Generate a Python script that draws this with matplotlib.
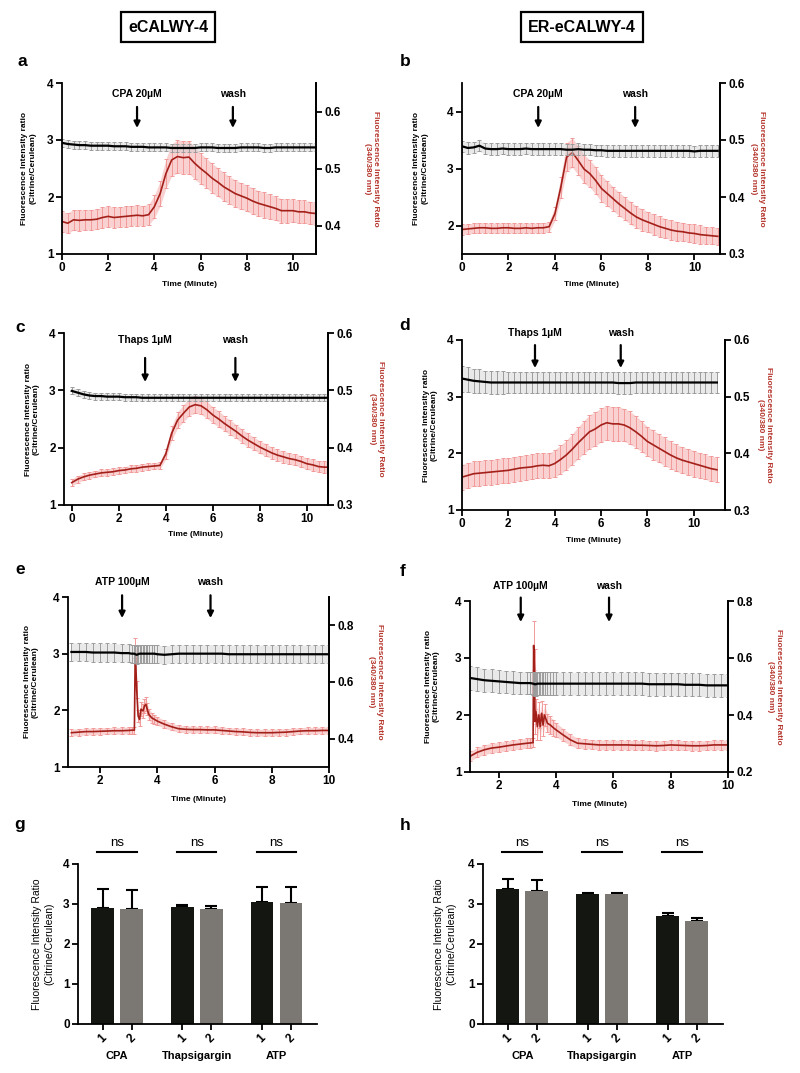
import matplotlib
matplotlib.use("Agg")
import matplotlib.pyplot as plt

plt.rcParams["font.family"] = ["Liberation Sans", "DejaVu Sans"]

# ---- time course data (minutes) ----
T_SLOW = [0.0, 0.25, 0.5, 0.75, 1.0, 1.25, 1.5, 1.75, 2.0, 2.25, 2.5, 2.75, 3.0, 3.25, 3.5,
          3.75, 4.0, 4.25, 4.5, 4.75, 5.0, 5.25, 5.5, 5.75, 6.0, 6.25, 6.5, 6.75, 7.0, 7.25,
          7.5, 7.75, 8.0, 8.25, 8.5, 8.75, 9.0, 9.25, 9.5, 9.75, 10.0, 10.25, 10.5, 10.75, 11.0]

A_RED = [0.407, 0.404, 0.410, 0.409, 0.410, 0.410, 0.411, 0.414, 0.416, 0.414,
         0.415, 0.416, 0.417, 0.418, 0.417, 0.419, 0.433, 0.456, 0.491, 0.515,
         0.521, 0.519, 0.520, 0.509, 0.500, 0.492, 0.483, 0.476, 0.468, 0.462,
         0.456, 0.452, 0.448, 0.443, 0.439, 0.436, 0.433, 0.430, 0.426, 0.426,
         0.426, 0.424, 0.424, 0.422, 0.421]
A_RED_ERR = [0.018, 0.018, 0.018, 0.018, 0.018, 0.018, 0.018, 0.018, 0.018, 0.018,
             0.018, 0.018, 0.018, 0.018, 0.018, 0.018, 0.020, 0.022, 0.026, 0.028,
             0.029, 0.029, 0.029, 0.028, 0.027, 0.026, 0.026, 0.025, 0.025, 0.024,
             0.024, 0.023, 0.023, 0.023, 0.022, 0.022, 0.022, 0.021, 0.021, 0.021,
             0.020, 0.020, 0.020, 0.020, 0.020]
A_BLK = [2.95, 2.93, 2.92, 2.91, 2.91, 2.90, 2.90, 2.90, 2.90, 2.89,
         2.89, 2.89, 2.88, 2.88, 2.88, 2.87, 2.87, 2.87, 2.87, 2.86,
         2.86, 2.86, 2.86, 2.86, 2.87, 2.87, 2.87, 2.86, 2.86, 2.86,
         2.86, 2.87, 2.87, 2.87, 2.87, 2.86, 2.86, 2.87, 2.87, 2.87,
         2.87, 2.87, 2.87, 2.87, 2.87]
A_BLK_ERR = [0.07, 0.07, 0.07, 0.07, 0.07, 0.07, 0.07, 0.07, 0.07, 0.07,
             0.07, 0.07, 0.07, 0.07, 0.07, 0.07, 0.07, 0.07, 0.07, 0.07,
             0.07, 0.07, 0.07, 0.07, 0.07, 0.07, 0.07, 0.07, 0.07, 0.07,
             0.07, 0.07, 0.07, 0.07, 0.07, 0.07, 0.07, 0.07, 0.07, 0.07,
             0.07, 0.07, 0.07, 0.07, 0.07]

B_RED = [0.343, 0.344, 0.345, 0.346, 0.346, 0.345, 0.345, 0.346, 0.346, 0.345,
         0.345, 0.346, 0.345, 0.346, 0.346, 0.348, 0.371, 0.417, 0.470, 0.478,
         0.464, 0.449, 0.441, 0.429, 0.415, 0.406, 0.397, 0.388, 0.380, 0.372,
         0.365, 0.360, 0.356, 0.352, 0.348, 0.345, 0.342, 0.340, 0.339, 0.337,
         0.336, 0.334, 0.333, 0.332, 0.331]
B_RED_ERR = [0.009, 0.009, 0.009, 0.009, 0.009, 0.009, 0.009, 0.009, 0.009, 0.009,
             0.009, 0.009, 0.009, 0.009, 0.009, 0.009, 0.012, 0.018, 0.025, 0.026,
             0.025, 0.025, 0.024, 0.024, 0.023, 0.022, 0.021, 0.021, 0.020, 0.020,
             0.019, 0.019, 0.018, 0.018, 0.018, 0.017, 0.017, 0.017, 0.016, 0.016,
             0.016, 0.016, 0.015, 0.015, 0.015]
B_BLK = [3.39, 3.36, 3.37, 3.40, 3.35, 3.34, 3.34, 3.35, 3.34, 3.34,
         3.34, 3.35, 3.34, 3.34, 3.34, 3.34, 3.34, 3.34, 3.33, 3.33,
         3.34, 3.33, 3.33, 3.32, 3.32, 3.31, 3.31, 3.31, 3.31, 3.31,
         3.31, 3.31, 3.31, 3.31, 3.31, 3.31, 3.31, 3.31, 3.31, 3.31,
         3.30, 3.31, 3.31, 3.31, 3.31]
B_BLK_ERR = [0.10, 0.10, 0.10, 0.10, 0.10, 0.10, 0.10, 0.10, 0.10, 0.10,
             0.10, 0.10, 0.10, 0.10, 0.10, 0.10, 0.10, 0.10, 0.10, 0.10,
             0.10, 0.10, 0.10, 0.10, 0.10, 0.10, 0.10, 0.10, 0.10, 0.10,
             0.10, 0.10, 0.10, 0.10, 0.10, 0.10, 0.10, 0.10, 0.10, 0.10,
             0.10, 0.10, 0.10, 0.10, 0.10]

C_RED = [0.339, 0.345, 0.349, 0.352, 0.354, 0.356, 0.357, 0.358, 0.360, 0.361,
         0.363, 0.364, 0.366, 0.367, 0.368, 0.369, 0.389, 0.425, 0.448, 0.460,
         0.471, 0.475, 0.473, 0.466, 0.457, 0.450, 0.442, 0.435, 0.428, 0.420,
         0.413, 0.407, 0.401, 0.396, 0.391, 0.387, 0.384, 0.381, 0.379, 0.376,
         0.372, 0.370, 0.367, 0.366, 0.366]
C_RED_ERR = [0.006, 0.006, 0.006, 0.006, 0.006, 0.006, 0.006, 0.006, 0.006, 0.006,
             0.006, 0.006, 0.006, 0.006, 0.006, 0.006, 0.009, 0.012, 0.014, 0.015,
             0.015, 0.015, 0.015, 0.015, 0.014, 0.014, 0.013, 0.013, 0.012, 0.012,
             0.012, 0.011, 0.011, 0.011, 0.010, 0.010, 0.010, 0.010, 0.010, 0.010,
             0.010, 0.010, 0.010, 0.010, 0.010]
C_BLK = [2.99, 2.96, 2.93, 2.91, 2.90, 2.90, 2.89, 2.89, 2.89, 2.88,
         2.88, 2.88, 2.87, 2.87, 2.87, 2.87, 2.87, 2.87, 2.87, 2.87,
         2.87, 2.87, 2.87, 2.87, 2.87, 2.87, 2.87, 2.87, 2.87, 2.87,
         2.87, 2.87, 2.87, 2.87, 2.87, 2.87, 2.87, 2.87, 2.87, 2.87,
         2.87, 2.87, 2.87, 2.87, 2.87]
C_BLK_ERR = [0.06, 0.06, 0.06, 0.06, 0.06, 0.06, 0.06, 0.06, 0.06, 0.06,
             0.06, 0.06, 0.06, 0.06, 0.06, 0.06, 0.06, 0.06, 0.06, 0.06,
             0.06, 0.06, 0.06, 0.06, 0.06, 0.06, 0.06, 0.06, 0.06, 0.06,
             0.06, 0.06, 0.06, 0.06, 0.06, 0.06, 0.06, 0.06, 0.06, 0.06,
             0.06, 0.06, 0.06, 0.06, 0.06]

D_RED = [0.358, 0.361, 0.364, 0.365, 0.366, 0.367, 0.368, 0.369, 0.370, 0.372,
         0.374, 0.375, 0.376, 0.378, 0.379, 0.378, 0.382, 0.389, 0.397, 0.407,
         0.418, 0.428, 0.438, 0.443, 0.450, 0.454, 0.452, 0.452, 0.450, 0.445,
         0.438, 0.430, 0.421, 0.415, 0.409, 0.403, 0.397, 0.392, 0.388, 0.385,
         0.382, 0.379, 0.376, 0.373, 0.371]
D_RED_ERR = [0.022, 0.022, 0.022, 0.022, 0.022, 0.022, 0.022, 0.022, 0.022, 0.022,
             0.022, 0.022, 0.022, 0.022, 0.022, 0.022, 0.024, 0.025, 0.026, 0.027,
             0.028, 0.029, 0.030, 0.030, 0.030, 0.030, 0.030, 0.030, 0.029, 0.029,
             0.028, 0.027, 0.026, 0.026, 0.025, 0.025, 0.024, 0.024, 0.023, 0.023,
             0.023, 0.022, 0.022, 0.022, 0.022]
D_BLK = [3.32, 3.30, 3.28, 3.27, 3.26, 3.25, 3.25, 3.25, 3.25, 3.25,
         3.25, 3.25, 3.25, 3.25, 3.25, 3.25, 3.25, 3.25, 3.25, 3.25,
         3.25, 3.25, 3.25, 3.25, 3.25, 3.25, 3.25, 3.24, 3.24, 3.24,
         3.25, 3.25, 3.25, 3.25, 3.25, 3.25, 3.25, 3.25, 3.25, 3.25,
         3.25, 3.25, 3.25, 3.25, 3.25]
D_BLK_ERR = [0.23, 0.22, 0.21, 0.21, 0.20, 0.20, 0.20, 0.20, 0.19, 0.19,
             0.19, 0.19, 0.19, 0.19, 0.19, 0.19, 0.19, 0.19, 0.19, 0.19,
             0.19, 0.19, 0.19, 0.19, 0.19, 0.19, 0.19, 0.19, 0.19, 0.19,
             0.19, 0.19, 0.19, 0.19, 0.19, 0.19, 0.19, 0.19, 0.19, 0.19,
             0.19, 0.19, 0.19, 0.19, 0.19]

T_E = [1.0, 1.25, 1.5, 1.75, 2.0, 2.25, 2.5, 2.75, 3.0,
       3.1, 3.2, 3.23, 3.28, 3.33, 3.38, 3.43, 3.5, 3.55, 3.6, 3.65, 3.7, 3.8, 3.9,
       4.0, 4.25, 4.5, 4.75, 5.0, 5.25, 5.5, 5.75, 6.0, 6.25, 6.5, 6.75, 7.0,
       7.25, 7.5, 7.75, 8.0, 8.25, 8.5, 8.75, 9.0, 9.25, 9.5, 9.75, 10.0]
E_RED = [0.421, 0.423, 0.425, 0.425, 0.426, 0.427, 0.428, 0.428, 0.429,
         0.430, 0.430, 0.721, 0.574, 0.480, 0.468, 0.504, 0.498, 0.515, 0.521, 0.504,
         0.486, 0.474, 0.468,
         0.462, 0.451, 0.442, 0.435, 0.433, 0.432, 0.432, 0.431, 0.431, 0.429, 0.427,
         0.425, 0.424, 0.422, 0.421, 0.421, 0.421, 0.422, 0.423, 0.425, 0.427, 0.428,
         0.428, 0.429, 0.429]
E_RED_ERR = [0.012, 0.012, 0.012, 0.012, 0.012, 0.012, 0.012, 0.012, 0.012,
             0.012, 0.012, 0.035, 0.030, 0.022, 0.022, 0.025, 0.025, 0.025, 0.025, 0.022,
             0.020, 0.018, 0.016,
             0.015, 0.014, 0.013, 0.012, 0.012, 0.012, 0.012, 0.012, 0.012, 0.012, 0.012,
             0.012, 0.012, 0.012, 0.012, 0.012, 0.012, 0.012, 0.012, 0.012, 0.012, 0.012,
             0.012, 0.012, 0.012]
E_BLK = [3.03, 3.03, 3.03, 3.02, 3.02, 3.02, 3.02, 3.01, 3.01,
         3.00, 3.00, 2.99, 2.98, 2.99, 3.00, 3.00, 3.00, 3.00, 3.00, 3.00,
         3.00, 3.00, 3.00,
         2.99, 2.98, 2.99, 3.00, 3.00, 3.00, 3.00, 3.00, 3.00, 3.00, 2.99,
         2.99, 2.99, 2.99, 2.99, 2.99, 2.99, 2.99, 2.99, 2.99, 2.99, 2.99,
         2.99, 2.99, 2.99]
E_BLK_ERR = [0.16, 0.16, 0.16, 0.16, 0.16, 0.16, 0.16, 0.16, 0.16,
             0.16, 0.16, 0.16, 0.16, 0.16, 0.16, 0.16, 0.16, 0.16, 0.16, 0.16,
             0.16, 0.16, 0.16,
             0.16, 0.16, 0.16, 0.16, 0.16, 0.16, 0.16, 0.16, 0.16, 0.16, 0.16,
             0.16, 0.16, 0.16, 0.16, 0.16, 0.16, 0.16, 0.16, 0.16, 0.16, 0.16,
             0.16, 0.16, 0.16]

T_F = [1.0, 1.25, 1.5, 1.75, 2.0, 2.25, 2.5, 2.75, 3.0,
       3.1, 3.2, 3.22, 3.25, 3.27, 3.3, 3.35, 3.4, 3.45, 3.5, 3.55, 3.6, 3.7, 3.8, 3.9,
       4.0, 4.25, 4.5, 4.75, 5.0, 5.25, 5.5, 5.75, 6.0, 6.25, 6.5, 6.75, 7.0,
       7.25, 7.5, 7.75, 8.0, 8.25, 8.5, 8.75, 9.0, 9.25, 9.5, 9.75, 10.0]
F_RED = [0.255, 0.269, 0.278, 0.284, 0.287, 0.291, 0.295, 0.298, 0.301,
         0.302, 0.303, 0.644, 0.557, 0.377, 0.412, 0.359, 0.400, 0.359, 0.406, 0.365,
         0.400, 0.371, 0.365, 0.356,
         0.348, 0.330, 0.313, 0.301, 0.299, 0.297, 0.295, 0.295, 0.295, 0.295, 0.295,
         0.294, 0.294, 0.293, 0.292, 0.293, 0.295, 0.294, 0.293, 0.292, 0.292, 0.293,
         0.295, 0.295, 0.295]
F_RED_ERR = [0.017, 0.017, 0.017, 0.017, 0.017, 0.017, 0.017, 0.017, 0.017,
             0.017, 0.017, 0.087, 0.075, 0.045, 0.045, 0.045, 0.045, 0.045, 0.042, 0.040,
             0.038, 0.032, 0.030, 0.028,
             0.025, 0.022, 0.020, 0.018, 0.017, 0.017, 0.017, 0.017, 0.017, 0.017, 0.017,
             0.017, 0.017, 0.017, 0.017, 0.017, 0.017, 0.017, 0.017, 0.017, 0.017, 0.017,
             0.017, 0.017, 0.017]
F_BLK = [2.65, 2.63, 2.61, 2.60, 2.59, 2.58, 2.57, 2.56, 2.56,
         2.56, 2.55, 2.55, 2.54, 2.54, 2.54, 2.55, 2.55, 2.55, 2.55, 2.55,
         2.55, 2.55, 2.55, 2.55,
         2.55, 2.55, 2.55, 2.55, 2.55, 2.55, 2.55, 2.55, 2.55, 2.55, 2.55,
         2.55, 2.55, 2.54, 2.54, 2.54, 2.54, 2.54, 2.53, 2.53, 2.53, 2.52,
         2.52, 2.52, 2.52]
F_BLK_ERR = [0.21, 0.21, 0.20, 0.20, 0.20, 0.20, 0.20, 0.20, 0.20,
             0.20, 0.20, 0.20, 0.20, 0.20, 0.20, 0.20, 0.20, 0.20, 0.20, 0.20,
             0.20, 0.20, 0.20, 0.20,
             0.20, 0.20, 0.20, 0.20, 0.20, 0.20, 0.20, 0.20, 0.20, 0.20, 0.20,
             0.20, 0.20, 0.20, 0.20, 0.20, 0.20, 0.20, 0.20, 0.20, 0.20, 0.20,
             0.20, 0.20, 0.20]

# ---- bar chart data ----
GROUPS = ["CPA", "Thapsigargin", "ATP"]
BAR_TICKS = ["1", "2"]
G_MEAN_1 = [2.91, 2.92, 3.06]
G_ERR_1 = [0.46, 0.06, 0.37]
G_MEAN_2 = [2.88, 2.88, 3.02]
G_ERR_2 = [0.46, 0.07, 0.41]
H_MEAN_1 = [3.37, 3.26, 2.70]
H_ERR_1 = [0.25, 0.01, 0.08]
H_MEAN_2 = [3.33, 3.26, 2.57]
H_ERR_2 = [0.27, 0.01, 0.08]

RED_LINE = "#a3201a"
RED_ERR = "#f29a9a"
RED_LABEL = "#b5372d"
GREY_ERR = "#9c9c9c"
BAR_DARK = "#131611"
BAR_GREY = "#7b7873"

W, H = 800, 1073
fig = plt.figure(figsize=(W / 100, H / 100), dpi=100, facecolor="white")


def box(l, t, r, b):
    return [l / W, 1 - b / H, (r - l) / W, (b - t) / H]


def style_ax(ax):
    for s in ax.spines.values():
        s.set_linewidth(1.3)
    ax.tick_params(direction="out", length=4, width=1.3, labelsize=8.5, pad=2)
    for lab in ax.get_xticklabels() + ax.get_yticklabels():
        lab.set_fontweight("bold")


def trace_panel(rect, t, red, red_err, blk, blk_err, xlim, ylim, y2lim,
                xticks, yticks, y2ticks, events, ev_y, lab_x, rlab_x, time_y):
    ax = fig.add_axes(rect)
    ax2 = ax.twinx()
    ax.set_zorder(ax2.get_zorder() + 1)
    ax.patch.set_visible(False)

    lo = [m - e for m, e in zip(red, red_err)]
    hi = [m + e for m, e in zip(red, red_err)]
    ax2.fill_between(t, lo, hi, color=RED_ERR, alpha=0.45, lw=0)
    ax2.errorbar(t, red, yerr=red_err, fmt="none", ecolor=RED_ERR, elinewidth=0.7,
                 capsize=1.3, capthick=0.7)
    ax2.plot(t, red, color=RED_LINE, lw=1.2)

    lo = [m - e for m, e in zip(blk, blk_err)]
    hi = [m + e for m, e in zip(blk, blk_err)]
    ax.fill_between(t, lo, hi, color="#c8c8c8", alpha=0.4, lw=0)
    ax.errorbar(t, blk, yerr=blk_err, fmt="none", ecolor=GREY_ERR, elinewidth=0.7,
                capsize=1.3, capthick=0.7)
    ax.plot(t, blk, color="black", lw=1.6)

    ax.set_xlim(*xlim)
    ax.set_ylim(*ylim)
    ax2.set_ylim(*y2lim)
    ax.set_xticks(xticks)
    ax.set_yticks(yticks)
    ax2.set_yticks(y2ticks)
    ax.spines["top"].set_visible(False)
    ax2.spines["top"].set_visible(False)
    ax2.spines["left"].set_visible(False)
    ax2.spines["bottom"].set_visible(False)
    style_ax(ax)
    style_ax(ax2)

    ax.text(lab_x, 0.5, "Fluorescence Intensity ratio\n(Citrine/Cerulean)",
            transform=ax.transAxes, rotation=90, ha="center", va="center",
            fontsize=6, fontweight="bold", multialignment="center", linespacing=1.2)
    ax.text(rlab_x, 0.5, "Fluorescence Intensity Ratio\n(340/380 nm)",
            transform=ax.transAxes, rotation=270, ha="center", va="center",
            fontsize=6, fontweight="bold", color=RED_LABEL,
            multialignment="center", linespacing=1.2)
    ax.text(0.5, time_y, "Time (Minute)", transform=ax.transAxes, ha="center",
            va="center", fontsize=6, fontweight="bold")

    ty, tail, tip = ev_y
    for name, x in events:
        ax.annotate("", xy=(x, tip), xytext=(x, tail),
                    xycoords=("data", "axes fraction"),
                    textcoords=("data", "axes fraction"),
                    arrowprops=dict(arrowstyle="-|>", color="black", lw=1.6,
                                    mutation_scale=9, shrinkA=0, shrinkB=0),
                    annotation_clip=False)
        ax.annotate(name, xy=(x, ty), xycoords=("data", "axes fraction"),
                    ha="center", va="center", fontsize=7.5, fontweight="bold",
                    annotation_clip=False)
    return ax


def bar_panel(rect, m1, e1, m2, e2, lab_x):
    ax = fig.add_axes(rect)
    centers = [0.0, 2.75, 5.5]
    x1 = [c - 0.5 for c in centers]
    x2 = [c + 0.5 for c in centers]
    ax.bar(x1, m1, width=0.78, color=BAR_DARK, zorder=2)
    ax.bar(x2, m2, width=0.78, color=BAR_GREY, zorder=2)
    ax.errorbar(x1, m1, yerr=[[0] * len(e1), e1], fmt="none", ecolor="black",
                elinewidth=1.5, capsize=4, capthick=1.5, zorder=1)
    ax.errorbar(x2, m2, yerr=[[0] * len(e2), e2], fmt="none", ecolor="black",
                elinewidth=1.5, capsize=4, capthick=1.5, zorder=1)
    ax.set_xlim(-1.35, 6.9)
    ax.set_ylim(0, 4)
    ax.set_yticks([0, 1, 2, 3, 4])
    pos = []
    labs = []
    for a, b in zip(x1, x2):
        pos += [a, b]
        labs += BAR_TICKS
    ax.set_xticks(pos)
    ax.set_xticklabels(labs, rotation=45, ha="center", va="top")
    ax.spines["top"].set_visible(False)
    ax.spines["right"].set_visible(False)
    style_ax(ax)
    for c, g in zip(centers, GROUPS):
        ax.text(c, -0.2, g, transform=ax.get_xaxis_transform(), ha="center",
                va="center", fontsize=8, fontweight="bold")
        ax.plot([c - 0.68, c + 0.68], [4.3, 4.3], color="black", lw=1.5,
                clip_on=False)
        ax.text(c, 4.53, "ns", ha="center", va="center", fontsize=9.5)
    ax.text(lab_x, 0.5, "Fluorescence Intensity Ratio\n(Citrine/Cerulean)",
            transform=ax.transAxes, rotation=90, ha="center", va="center",
            fontsize=7.5, multialignment="center", linespacing=1.2)
    return ax


XT = [0, 2, 4, 6, 8, 10]
XT2 = [2, 4, 6, 8, 10]

trace_panel(box(62, 83, 316, 254), T_SLOW, A_RED, A_RED_ERR, A_BLK, A_BLK_ERR,
            (0, 11), (1, 4), (0.35, 0.65), XT, [1, 2, 3, 4], [0.4, 0.5, 0.6],
            [("CPA 20\u00b5M", 3.25), ("wash", 7.4)], (0.935, 0.86, 0.737),
            -0.13, 1.22, -0.18)
trace_panel(box(462, 83, 720, 254), T_SLOW, B_RED, B_RED_ERR, B_BLK, B_BLK_ERR,
            (0, 11.1), (1.5, 4.5), (0.3, 0.6), XT, [2, 3, 4], [0.3, 0.4, 0.5, 0.6],
            [("CPA 20\u00b5M", 3.28), ("wash", 7.45)], (0.935, 0.86, 0.737),
            -0.16, 1.147, -0.18)
trace_panel(box(64, 333, 328, 505), T_SLOW, C_RED, C_RED_ERR, C_BLK, C_BLK_ERR,
            (-0.33, 10.9), (1, 4), (0.3, 0.6), XT, [1, 2, 3, 4], [0.3, 0.4, 0.5, 0.6],
            [("Thaps 1\u00b5M", 3.12), ("wash", 6.96)], (0.96, 0.855, 0.715),
            -0.12, 1.185, -0.174)
trace_panel(box(462, 340, 725, 510), T_SLOW, D_RED, D_RED_ERR, D_BLK, D_BLK_ERR,
            (0, 11.35), (1, 4), (0.3, 0.6), XT, [1, 2, 3, 4], [0.3, 0.4, 0.5, 0.6],
            [("Thaps 1\u00b5M", 3.15), ("wash", 6.85)], (1.04, 0.97, 0.835),
            -0.12, 1.152, -0.18)
trace_panel(box(68, 597, 329, 767), T_E, E_RED, E_RED_ERR, E_BLK, E_BLK_ERR,
            (0.88, 10), (1, 4), (0.3, 0.9), XT2, [1, 2, 3, 4], [0.4, 0.6, 0.8],
            [("ATP 100\u00b5M", 2.77), ("wash", 5.86)], (1.09, 1.01, 0.876),
            -0.14, 1.18, -0.19)
trace_panel(box(470, 601, 728, 772), T_F, F_RED, F_RED_ERR, F_BLK, F_BLK_ERR,
            (1, 10), (1, 4), (0.2, 0.8), XT2, [1, 2, 3, 4], [0.2, 0.4, 0.6, 0.8],
            [("ATP 100\u00b5M", 2.77), ("wash", 5.85)], (1.09, 1.02, 0.877),
            -0.147, 1.18, -0.19)

bar_panel(box(78, 864, 317, 1024), G_MEAN_1, G_ERR_1, G_MEAN_2, G_ERR_2, -0.146)
bar_panel(box(483, 864, 723, 1024), H_MEAN_1, H_ERR_1, H_MEAN_2, H_ERR_2, -0.158)

# column titles
for x, txt in [(168, "eCALWY-4"), (582, "ER-eCALWY-4")]:
    fig.text(x / W, 1 - 27 / H, txt, ha="center", va="center", fontsize=11.5,
             fontweight="bold",
             bbox=dict(boxstyle="square,pad=0.45", fc="white", ec="black", lw=1.6))

# panel letters
for x, y, s in [(22, 62, "a"), (405, 62, "b"), (20, 328, "c"), (405, 325, "d"),
                (20, 569, "e"), (403, 572, "f"), (20, 825, "g"), (405, 825, "h")]:
    fig.text(x / W, 1 - y / H, s, ha="center", va="center", fontsize=12.5,
             fontweight="bold")

fig.savefig("out.png", dpi=100, facecolor="white")
